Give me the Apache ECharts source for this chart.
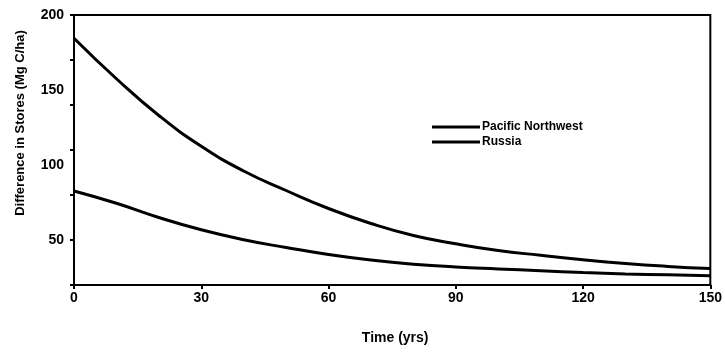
<!DOCTYPE html>
<html>
<head>
<meta charset="utf-8">
<script src="https://cdn.jsdelivr.net/npm/echarts@6/dist/echarts.min.js"></script>
<style>
html,body{margin:0;padding:0;background:#fff;}
#chart{width:725px;height:352px;}
</style>
</head>
<body>
<div id="chart"></div>
<script>
const years = [0, 10, 20, 30, 40, 50, 60, 70, 80, 90, 100, 110, 120, 130, 140, 150];
const pacificNorthwest = [184.5, 157.5, 133, 112.5, 96, 83, 71, 61, 53, 47.5, 43, 39.8, 36.8, 34.3, 32.4, 31];
const russia = [82.7, 74.5, 65, 56.8, 50.2, 45, 40.3, 36.6, 33.9, 32, 30.7, 29.5, 28.3, 27.4, 26.8, 26.2];
const xTickLabels = [0, 30, 60, 90, 120, 150];
const yTickLabels = [50, 100, 150, 200];
const yTickMarks = [20, 50, 80, 110, 140, 170, 200];
const seriesNames = ['Pacific Northwest', 'Russia'];

const font = '"Liberation Sans", Arial, sans-serif';
const chart = echarts.init(document.getElementById('chart'), null, {renderer: 'canvas'});

function pairs(xs, ys) { return xs.map((x, i) => [x, ys[i]]); }

chart.setOption({
  backgroundColor: '#fff',
  animation: false,
  grid: {left: 74, right: 14, top: 15, bottom: 67, show: true, borderColor: '#000', borderWidth: 2, containLabel: false},
  legend: {
    data: seriesNames,
    orient: 'vertical',
    left: 427,
    top: 116,
    icon: 'rect',
    itemWidth: 48,
    itemHeight: 3,
    itemGap: 3,
    textStyle: {fontFamily: font, fontWeight: 'bold', fontSize: 12, color: '#000', padding: [0, 0, 0, -3]},
    itemStyle: {color: '#000'}
  },
  xAxis: {
    type: 'value',
    min: 0, max: 150, interval: 30,
    name: 'Time (yrs)',
    nameLocation: 'middle',
    nameGap: 46,
    nameTextStyle: {fontFamily: font, fontWeight: 'bold', fontSize: 14, color: '#000', padding: [0, 0, 0, 6]},
    axisLine: {show: true, lineStyle: {color: '#000', width: 2}},
    axisTick: {show: true, inside: false, length: 4, lineStyle: {color: '#000', width: 2}},
    axisLabel: {
      fontFamily: font, fontWeight: 'bold', fontSize: 14, color: '#000', margin: 6,
      customValues: xTickLabels
    },
    splitLine: {show: false}
  },
  yAxis: {
    type: 'value',
    min: 20, max: 200,
    axisLine: {show: true, lineStyle: {color: '#000', width: 2}},
    axisTick: {show: true, inside: false, length: 4, lineStyle: {color: '#000', width: 2}, customValues: yTickMarks},
    axisLabel: {
      fontFamily: font, fontWeight: 'bold', fontSize: 14, color: '#000', margin: 10,
      customValues: yTickLabels
    },
    splitLine: {show: false}
  },
  graphic: [{
    type: 'text',
    x: 20, y: 123,
    rotation: Math.PI / 2,
    style: {
      text: 'Difference in Stores (Mg C/ha)',
      fontFamily: font, fontWeight: 'bold', fontSize: 13, fill: '#000',
      align: 'center', verticalAlign: 'middle'
    }
  }],
  series: [
    {
      name: seriesNames[0], type: 'line', smooth: true, symbol: 'none',
      lineStyle: {color: '#000', width: 3}, itemStyle: {color: '#000'},
      data: pairs(years, pacificNorthwest)
    },
    {
      name: seriesNames[1], type: 'line', smooth: true, symbol: 'none',
      lineStyle: {color: '#000', width: 3}, itemStyle: {color: '#000'},
      data: pairs(years, russia)
    }
  ]
});
</script>
</body>
</html>
